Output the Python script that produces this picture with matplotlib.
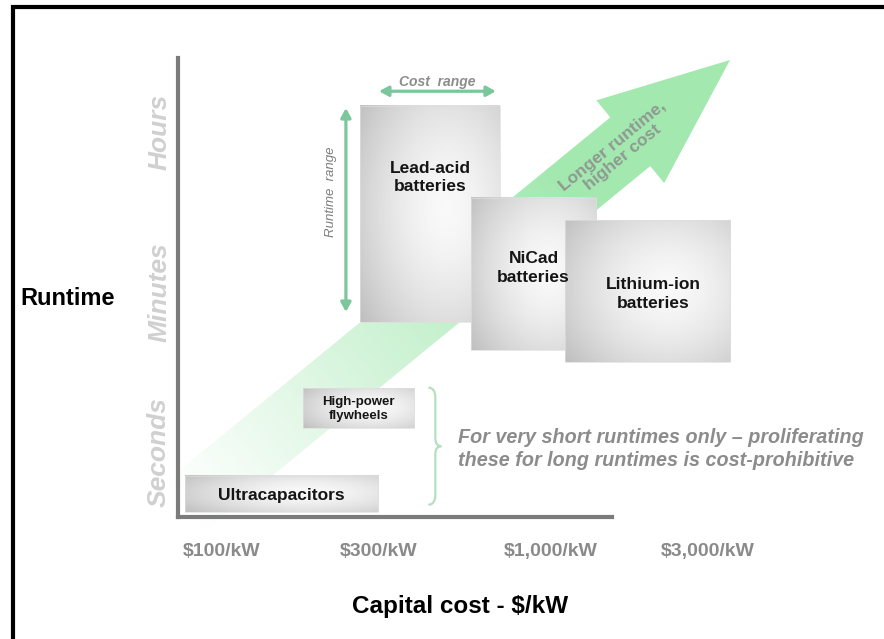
import numpy as np
import matplotlib
matplotlib.use('Agg')
import matplotlib.pyplot as plt
from matplotlib.patches import Polygon, Rectangle, PathPatch
from matplotlib.path import Path
from matplotlib.transforms import IdentityTransform
from matplotlib.lines import Line2D
from matplotlib.ticker import NullLocator

# ---------------- data ----------------
technologies = ['Ultracapacitors', 'High-power\nflywheels', 'Lead-acid\nbatteries',
                'NiCad\nbatteries', 'Lithium-ion\nbatteries']
cost_low = [77, 176, 263, 571, 1100]          # $/kW
cost_high = [298, 383, 700, 1370, 3500]       # $/kW
runtime_low = [2.15, 18.5, 278, 136, 100]     # seconds
runtime_high = [5.4, 51, 69800, 6640, 3780]   # seconds

cost_ticks = [100, 300, 1000, 3000]
cost_tick_labels = [r'\$100/kW', r'\$300/kW', r'\$1,000/kW', r'\$3,000/kW']
runtime_ticks = [10, 600, 36000]
runtime_tick_labels = ['Seconds', 'Minutes', 'Hours']

trend_start = (56, 0.95)          # (cost, runtime)
trend_end = (3500, 227000)
cost_range_span = (300, 680)
cost_range_runtime = 102000
runtime_range_span = (360, 66400)
runtime_range_cost = 238
brace_cost = 445
brace_runtime = (2.6, 52)

x_limits = (73.5, 4316)
y_limits = (1.9, 238700)
bottom_axis_end = 1530

# ---------------- styles ----------------
label_frac = [0.47, 0.48, 0.67, 0.54, 0.48]
label_dx = [0, 0, 0, 0, 6]
label_size = [12.5, 9.5, 12.5, 12.5, 12.5]
label_ls = [1.25, 1.2, 1.3, 1.4, 1.3]
box_z = [3, 3, 4, 5, 6]
GREEN_LINE = '#7cc69b'
GREEN_FILL = np.array([0.64, 0.91, 0.69])

plt.rcParams['font.family'] = ['Liberation Sans', 'DejaVu Sans']

fig = plt.figure(figsize=(8.84, 6.39), dpi=100)
W, H = 884, 639
ax = fig.add_axes([178 / W, 122 / H, 582 / W, 459 / H])
ax.set_xscale('log')
ax.set_yscale('log')
ax.set_xlim(*x_limits)
ax.set_ylim(*y_limits)
ax.set_autoscale_on(False)
ax.xaxis.set_minor_locator(NullLocator())
ax.yaxis.set_minor_locator(NullLocator())
ax.set_facecolor('white')

for s in ['top', 'right']:
    ax.spines[s].set_visible(False)
for s in ['left', 'bottom']:
    ax.spines[s].set_color('#7b7b7b')
    ax.spines[s].set_linewidth(3)
    ax.spines[s].set_capstyle('projecting')
ax.spines['bottom'].set_bounds(x_limits[0], bottom_axis_end)

ax.set_xticks(cost_ticks, cost_tick_labels)
ax.set_yticks(runtime_ticks, runtime_tick_labels)
ax.tick_params(axis='both', length=0)
ax.tick_params(axis='x', pad=19, labelsize=14, labelcolor='#8a8a8a')
ax.tick_params(axis='y', pad=5, labelsize=19, labelcolor='#d0d0d0')
for lab in ax.get_xticklabels():
    lab.set_fontweight('bold')
for lab in ax.get_yticklabels():
    lab.set_fontweight('bold')
    lab.set_fontstyle('italic')
    lab.set_rotation(90)
    lab.set_va('center')

ax.set_ylabel('Runtime', rotation=0, fontsize=17, fontweight='bold', color='black',
              ha='center', va='center')
ax.yaxis.set_label_coords(-0.189, 0.477)
ax.set_xlabel(r'Capital cost - \$/kW', fontsize=17.5, fontweight='bold', color='black',
              ha='center', va='center')
ax.xaxis.set_label_coords(0.4845, -0.194)

# ---------------- trend arrow with gradient ----------------
p0 = ax.transData.transform(trend_start)
p1 = ax.transData.transform(trend_end)
vec = p1 - p0
L = np.hypot(*vec)
d = vec / L
nrm = np.array([-d[1], d[0]])
shaft_hw, head_hw, head_len = 31.5, 53.5, 129
neck = p1 - d * head_len
verts = [p0 + nrm * shaft_hw, neck + nrm * shaft_hw, neck + nrm * head_hw, p1,
         neck - nrm * head_hw, neck - nrm * shaft_hw, p0 - nrm * shaft_hw]
arrow_poly = Polygon(verts, closed=True, transform=IdentityTransform(),
                     facecolor='none', edgecolor='none')
xs = np.arange(W) + 0.5
ys = np.arange(H) + 0.5
X, Y = np.meshgrid(xs, ys)
t = ((X - p0[0]) * d[0] + (Y - p0[1]) * d[1]) / L
f = np.clip((t - 0.08) / 0.65, 0, 1)
rgb = (1 - f)[..., None] * np.ones(3) + f[..., None] * GREEN_FILL
im = ax.imshow(rgb, origin='lower', extent=(0, W, 0, H), transform=IdentityTransform(),
               aspect='auto', interpolation='nearest', zorder=1)
im.set_clip_path(arrow_poly)
im.set_clip_box(fig.bbox)

angle = np.degrees(np.arctan2(d[1], d[0]))
tp = p0 + d * 0.81 * L
ax.text(tp[0], tp[1], 'Longer runtime,\nhigher cost', transform=IdentityTransform(),
        rotation=angle, rotation_mode='anchor', ha='center', va='center',
        fontsize=12.5, fontweight='bold', color='#8d9a91', linespacing=1.0, zorder=2)

# ---------------- technology boxes ----------------
n = 120
uu, ww = np.meshgrid(np.linspace(0, 1, n), np.linspace(0, 1, n))
dist = np.sqrt(((uu - 0.62) / 0.7) ** 2 + ((ww - 0.52) / 0.75) ** 2)
grad = 0.975 - 0.19 * np.clip(dist, 0, 1.1) ** 1.6

for i, name in enumerate(technologies):
    a = ax.transData.transform((cost_low[i], runtime_low[i]))
    b = ax.transData.transform((cost_high[i], runtime_high[i]))
    ax.imshow(grad, cmap='gray', vmin=0, vmax=1, origin='lower',
              extent=(a[0], b[0], a[1], b[1]), transform=IdentityTransform(),
              aspect='auto', interpolation='bilinear', zorder=box_z[i])
    ax.add_patch(Rectangle((cost_low[i], runtime_low[i]), cost_high[i] - cost_low[i],
                           runtime_high[i] - runtime_low[i], fill=False,
                           edgecolor='#dedede', lw=0.5, zorder=box_z[i] + 0.01))
    cx = np.sqrt(cost_low[i] * cost_high[i])
    cy = runtime_low[i] * (runtime_high[i] / runtime_low[i]) ** label_frac[i]
    ax.annotate(name, xy=(cx, cy), xytext=(label_dx[i] * 0.72, 0), textcoords='offset points',
                ha='center', va='center', fontsize=label_size[i],
                fontweight='bold', color='#151515', linespacing=label_ls[i], zorder=10)

# ---------------- range arrows ----------------
aprops = dict(arrowstyle='<|-|>,head_length=0.55,head_width=0.3', color=GREEN_LINE,
              lw=2.3, shrinkA=0, shrinkB=0)
ax.annotate('', xy=(cost_range_span[1], cost_range_runtime),
            xytext=(cost_range_span[0], cost_range_runtime), arrowprops=aprops,
            annotation_clip=False, zorder=8)
ax.annotate('Cost  range', xy=(np.sqrt(cost_range_span[0] * cost_range_span[1]), cost_range_runtime),
            xytext=(0, 7), textcoords='offset points', ha='center', va='center',
            fontsize=10, fontstyle='italic', fontweight='bold', color='#8c8c8c')
ax.annotate('', xy=(runtime_range_cost, runtime_range_span[1]),
            xytext=(runtime_range_cost, runtime_range_span[0]), arrowprops=aprops,
            annotation_clip=False, zorder=8)
ax.annotate('Runtime  range',
            xy=(runtime_range_cost, np.sqrt(runtime_range_span[0] * runtime_range_span[1])),
            xytext=(-11, 13), textcoords='offset points', ha='center', va='center',
            rotation=90, fontsize=9.5, fontstyle='italic', color='#7d7d7d')

# ---------------- brace and note ----------------
top = ax.transData.transform((brace_cost, brace_runtime[1]))
bot = ax.transData.transform((brace_cost, brace_runtime[0]))
xc, T, B = top[0], top[1], bot[1]
mid = (T + B) / 2
bverts = [(xc - 7, T), (xc, T), (xc, T - 10), (xc, mid + 8), (xc, mid), (xc + 6, mid),
          (xc, mid), (xc, mid - 8), (xc, B + 10), (xc, B), (xc - 7, B)]
bcodes = [Path.MOVETO, Path.CURVE3, Path.CURVE3, Path.LINETO, Path.CURVE3, Path.CURVE3,
          Path.CURVE3, Path.CURVE3, Path.LINETO, Path.CURVE3, Path.CURVE3]
ax.add_patch(PathPatch(Path(bverts, bcodes), transform=IdentityTransform(), fill=False,
                       edgecolor='#b6dfc0', lw=1.6, zorder=8))
ax.annotate('For very short runtimes only \u2013 proliferating\nthese for long runtimes is cost-prohibitive',
            xy=(brace_cost, np.sqrt(brace_runtime[0] * brace_runtime[1])),
            xytext=(16, -2), textcoords='offset points', ha='left', va='center',
            fontsize=14.2, fontstyle='italic', fontweight='bold', color='#8c8c8c',
            linespacing=1.32, annotation_clip=False)

# ---------------- outer frame ----------------
fig.add_artist(Line2D([12.5, 12.5, 900], [-10, 632, 632], transform=IdentityTransform(),
                      color='black', lw=3, solid_joinstyle='miter'))

fig.savefig('out.png', dpi=100)
